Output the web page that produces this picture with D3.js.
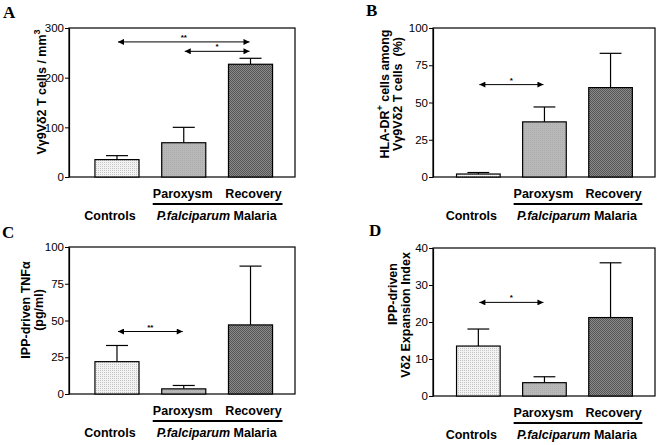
<!DOCTYPE html>
<html><head><meta charset="utf-8">
<script src="https://cdn.jsdelivr.net/npm/d3@7/dist/d3.min.js"></script>
<style>
html,body{margin:0;padding:0;background:#fff;}
svg{display:block;font-family:"Liberation Sans",Arial,sans-serif;}
text{white-space:pre;}
</style></head>
<body>
<svg id="chart" width="657" height="445"></svg>
<script>
// ---------- data ----------
const categories = ["Controls", "Paroxysm", "Recovery"];
const groupLabel = "Malaria";
const groupItalic = "P.falciparum";

const valuesA = [35, 69, 227];
const errorsA = [8, 31, 12];
const ticksA = [0, 100, 200, 300];

const valuesB = [2, 37, 60];
const errorsB = [1, 10, 23];
const ticksB = [0, 25, 50, 75, 100];

const valuesC = [22, 3.5, 47];
const errorsC = [11, 2.3, 40];
const ticksC = [0, 25, 50, 75, 100];

const valuesD = [13.5, 3.6, 21.2];
const errorsD = [4.6, 1.6, 14.8];
const ticksD = [0, 10, 20, 30, 40];

const sigA = [{from: 0, to: 2, y: 272, label: "**"}, {from: 1, to: 2, y: 253, label: "*"}];
const sigB = [{from: 0, to: 1, y: 62, label: "*"}];
const sigC = [{from: 0, to: 1, y: 42.5, label: "**"}];
const sigD = [{from: 0, to: 1, y: 25.3, label: "*"}];

// ---------- layout ----------
const panels = [
  {id: "A", values: valuesA, errors: errorsA, ticks: ticksA, sig: sigA,
   box: {l: 69, r: 295, t: 28, b: 177}, xr: [14.6, 214.9],
   tag: {x: 3, y: 18},
   ylab: {lines: [["Vγ9Vδ2 T cells / mm", "3"]], x: [46], cy: [92]}},
  {id: "B", values: valuesB, errors: errorsB, ticks: ticksB, sig: sigB,
   box: {l: 433, r: 655, t: 28, b: 177}, xr: [12.3, 210.6],
   tag: {x: 366, y: 16},
   ylab: {lines: [["HLA-DR", "+", " cells among"], ["Vγ9Vδ2 T cells  (%)"]], x: [389, 402], cy: [94, 94]}},
  {id: "C", values: valuesC, errors: errorsC, ticks: ticksC, sig: sigC,
   box: {l: 69, r: 295, t: 247, b: 394}, xr: [14.6, 214.9],
   tag: {x: 2, y: 238},
   ylab: {lines: [["IPP-driven TNFα"], ["(pg/ml)"]], x: [30, 43], cy: [310, 310]}},
  {id: "D", values: valuesD, errors: errorsD, ticks: ticksD, sig: sigD,
   box: {l: 433, r: 655, t: 248, b: 396}, xr: [12.3, 210.6],
   tag: {x: 369, y: 236},
   ylab: {lines: [["IPP-driven"], ["Vδ2 Expansion Index"]], x: [397, 410], cy: [294, 315]}}
];

const svg = d3.select("#chart");
const defs = svg.append("defs");

// patterns
const p1 = defs.append("pattern").attr("id", "patCtrl").attr("patternUnits", "userSpaceOnUse").attr("width", 2).attr("height", 2);
p1.append("rect").attr("width", 2).attr("height", 2).attr("fill", "#f3f3f3");
p1.append("rect").attr("width", 1).attr("height", 1).attr("fill", "#c4c4c4");
const p2 = defs.append("pattern").attr("id", "patPar").attr("patternUnits", "userSpaceOnUse").attr("width", 2).attr("height", 2);
p2.append("rect").attr("width", 2).attr("height", 2).attr("fill", "#b8b8b8");
p2.append("rect").attr("width", 1).attr("height", 1).attr("fill", "#acacac");
const p3 = defs.append("pattern").attr("id", "patRec").attr("patternUnits", "userSpaceOnUse").attr("width", 2).attr("height", 2);
p3.append("rect").attr("width", 2).attr("height", 2).attr("fill", "#8c8c8c");
p3.append("rect").attr("width", 1).attr("height", 1).attr("fill", "#545454");
p3.append("rect").attr("x", 1).attr("y", 1).attr("width", 1).attr("height", 1).attr("fill", "#545454");
const fills = ["url(#patCtrl)", "url(#patPar)", "url(#patRec)"];

// arrow markers
defs.append("marker").attr("id", "arrEnd").attr("viewBox", "0 0 10 10").attr("refX", 10).attr("refY", 5)
  .attr("markerWidth", 8).attr("markerHeight", 6).attr("markerUnits", "userSpaceOnUse").attr("orient", "auto")
  .append("path").attr("d", "M0,0 L10,5 L0,10 Z").attr("fill", "#000");
defs.append("marker").attr("id", "arrStart").attr("viewBox", "0 0 10 10").attr("refX", 0).attr("refY", 5)
  .attr("markerWidth", 8).attr("markerHeight", 6).attr("markerUnits", "userSpaceOnUse").attr("orient", "auto")
  .append("path").attr("d", "M10,0 L0,5 L10,10 Z").attr("fill", "#000");

panels.forEach(p => {
  const g = svg.append("g");
  const B = p.box;
  const y = d3.scaleLinear().domain([p.ticks[0], p.ticks[p.ticks.length - 1]]).range([B.b, B.t]);
  const x = d3.scaleBand().domain(categories).range([B.l + p.xr[0], B.l + p.xr[1]]).paddingInner(0.34).paddingOuter(0.17);
  const bw = x.bandwidth();

  // frame
  g.append("rect").attr("x", B.l).attr("y", B.t).attr("width", B.r - B.l).attr("height", B.b - B.t)
    .attr("fill", "none").attr("stroke", "#000").attr("stroke-width", 1.2);

  // y axis
  const ax = g.append("g").attr("transform", `translate(${B.l},0)`)
    .call(d3.axisLeft(y).tickValues(p.ticks).tickSize(4).tickPadding(1).tickSizeOuter(0));
  ax.select(".domain").attr("stroke-width", 1.2);
  ax.selectAll(".tick line").attr("stroke-width", 1);
  ax.selectAll("text").attr("font-size", 11.5).attr("font-family", "Liberation Sans, Arial, sans-serif").attr("fill", "#000");

  // bars
  categories.forEach((c, i) => {
    const v = p.values[i], e = p.errors[i];
    const cx = x(c) + bw / 2;
    g.append("line").attr("x1", cx).attr("x2", cx).attr("y1", y(v)).attr("y2", y(v + e)).attr("stroke", "#000").attr("stroke-width", 1.2);
    g.append("line").attr("x1", cx - bw / 4).attr("x2", cx + bw / 4).attr("y1", y(v + e)).attr("y2", y(v + e)).attr("stroke", "#000").attr("stroke-width", 1.2);
    g.append("rect").attr("x", x(c)).attr("y", y(v)).attr("width", bw).attr("height", y(0) - y(v))
      .attr("fill", fills[i]).attr("stroke", "#000").attr("stroke-width", 1.2);
  });

  // significance arrows
  p.sig.forEach(s => {
    const x1 = x(categories[s.from]) + bw / 2 + 1;
    const x2 = x(categories[s.to]) + bw / 2 - 1;
    g.append("line").attr("x1", x1).attr("x2", x2).attr("y1", y(s.y)).attr("y2", y(s.y))
      .attr("stroke", "#000").attr("stroke-width", 1)
      .attr("marker-start", "url(#arrStart)").attr("marker-end", "url(#arrEnd)");
    g.append("text").attr("x", (x1 + x2) / 2).attr("y", y(s.y) - 2).attr("text-anchor", "middle")
      .attr("font-size", 8).attr("font-weight", "bold").text(s.label);
  });

  // category labels
  const cPar = x(categories[1]) + bw / 2, cRec = x(categories[2]) + bw / 2, cCtl = x(categories[0]) + bw / 2;
  g.append("text").attr("x", cPar - 1).attr("y", B.b + 21).attr("text-anchor", "middle")
    .attr("font-size", 12.5).attr("font-weight", "bold").text(categories[1]);
  g.append("text").attr("x", cRec + 3).attr("y", B.b + 21).attr("text-anchor", "middle")
    .attr("font-size", 12.5).attr("font-weight", "bold").text(categories[2]);
  const u1 = x(categories[1]) - 9, u2 = x(categories[2]) + bw + 10;
  g.append("line").attr("x1", u1).attr("x2", u2).attr("y1", B.b + 27).attr("y2", B.b + 27)
    .attr("stroke", "#000").attr("stroke-width", 2);
  g.append("text").attr("x", cCtl - 7).attr("y", B.b + 43).attr("text-anchor", "middle")
    .attr("font-size", 12.5).attr("font-weight", "bold").text(categories[0]);
  const mt = g.append("text").attr("x", (u1 + u2) / 2 - 1).attr("y", B.b + 43).attr("text-anchor", "middle")
    .attr("font-size", 12.5).attr("font-weight", "bold");
  mt.append("tspan").attr("font-style", "italic").text(groupItalic);
  mt.append("tspan").text(" " + groupLabel);

  // y label
  p.ylab.lines.forEach((parts, k) => {
    const t = g.append("text").attr("transform", `translate(${p.ylab.x[k]},${p.ylab.cy[k]}) rotate(-90)`)
      .attr("text-anchor", "middle").attr("font-size", 12.5).attr("font-weight", "bold");
    t.append("tspan").text(parts[0]);
    if (parts.length > 1) {
      t.append("tspan").attr("font-size", 9).attr("dy", -6).text(parts[1]);
      if (parts.length > 2) t.append("tspan").attr("font-size", 12.5).attr("dy", 6).text(parts[2]);
    }
  });

  // panel tag
  g.append("text").attr("x", p.tag.x).attr("y", p.tag.y).attr("font-family", "Liberation Serif, Times New Roman, serif")
    .attr("font-weight", "bold").attr("font-size", 17).text(p.id);
});
</script>
</body></html>
